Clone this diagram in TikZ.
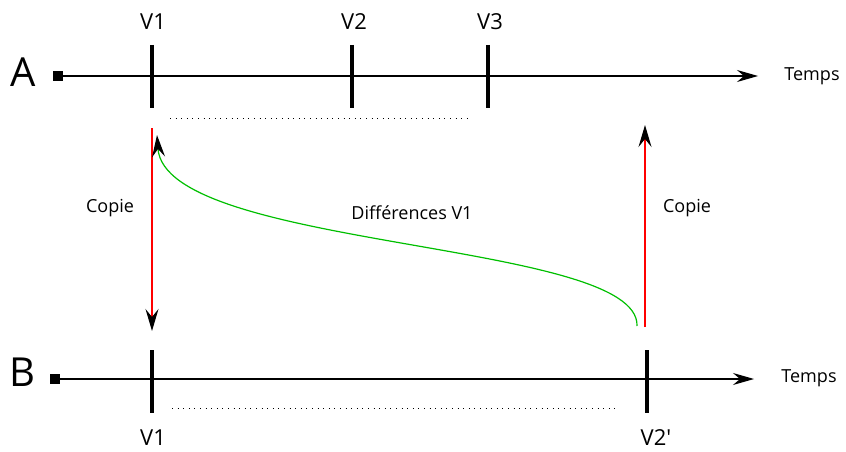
\documentclass[tikz,border=0pt]{standalone}
\usepackage{fontspec}
\setmainfont{Open Sans}
\newfontfamily\quotefont{Open Sans}[Ligatures=TeXOff]
\usetikzlibrary{arrows.meta}
\begin{document}
\begin{tikzpicture}[x=1pt,y=-1pt,
  axis/.style={line width=1.3pt,-{Stealth[length=21pt,width=12pt,inset=7pt]}},
  tick/.style={line width=3.8pt},
  dots/.style={line width=1pt,dash pattern=on 1pt off 4.6pt},
  lbl/.style={font=\fontsize{22}{26}\selectfont},
  big/.style={font=\fontsize{40}{46}\selectfont},
  small/.style={font=\fontsize{18}{21}\selectfont},
  copyarr/.style={red,line width=1.2pt,-{Stealth[length=22pt,width=13pt,inset=8pt,black]}},
  diffarr/.style={green!75!black,line width=1.2pt,-{Stealth[length=22pt,width=13pt,inset=8pt,black]}},
  sq/.style={fill=black,minimum size=10pt,inner sep=0pt}]
\useasboundingbox (0,0) rectangle (846,452);
% line A
\node[big] (A) at (23,72) {A};
\node[sq] (sa) at (58,76) {};
\coordinate (ea) at (758,76);
\draw[axis] (sa.center) -- (ea);
\node[small] (ta) at (812,76) {Temps};
\coordinate (a1t) at (152,45); \coordinate (a1b) at (152,108);
\coordinate (a2t) at (352,45); \coordinate (a2b) at (352,108);
\coordinate (a3t) at (488,45); \coordinate (a3b) at (488,108);
\draw[tick] (a1t) -- (a1b);
\draw[tick] (a2t) -- (a2b);
\draw[tick] (a3t) -- (a3b);
\node[lbl] (v1a) at (153,22) {V1};
\node[lbl] (v2a) at (354,22) {V2};
\node[lbl] (v3a) at (490,22) {V3};
\coordinate (da1) at (170,118); \coordinate (da2) at (467,118);
\draw[dots] (da1) -- (da2);
% line B
\node[big] (B) at (22,372) {B};
\node[sq] (sb) at (55,379) {};
\coordinate (eb) at (754,379);
\draw[axis] (sb.center) -- (eb);
\node[small] (tb) at (809,378) {Temps};
\coordinate (b1t) at (152,350); \coordinate (b1b) at (152,413);
\coordinate (b2t) at (647,350); \coordinate (b2b) at (647,413);
\draw[tick] (b1t) -- (b1b);
\draw[tick] (b2t) -- (b2b);
\node[lbl] (v1b) at (153,438) {V1};
\node[lbl] (v2b) at (656,438) {V2{\quotefont'}};
\coordinate (db1) at (172,408); \coordinate (db2) at (615,408);
\draw[dots] (db1) -- (db2);
% copies
\coordinate (c1s) at (152,128); \coordinate (c1e) at (152,331);
\draw[copyarr] (c1s) -- (c1e);
\coordinate (c2s) at (645,327); \coordinate (c2e) at (645,125);
\draw[copyarr] (c2s) -- (c2e);
\node[small] (cp1) at (110,208) {Copie};
\node[small] (cp2) at (687,208) {Copie};
% differences
\coordinate (g1) at (637,326); \coordinate (g2) at (157,135);
\draw[diffarr] (g1) .. controls (640,240) and (165,250) .. (g2);
\node[small] (df) at (412,213) {Différences V1};
\end{tikzpicture}
\end{document}
